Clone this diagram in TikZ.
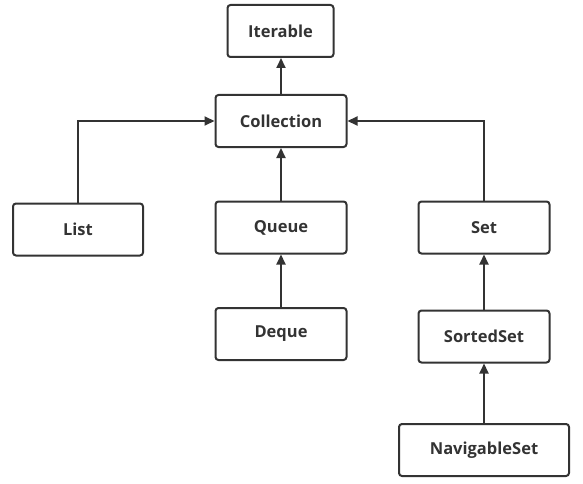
\documentclass[tikz,border=0pt]{standalone}
\usepackage{fontspec}
\setmainfont{Open Sans}
\usetikzlibrary{arrows.meta}
\definecolor{ink}{HTML}{333333}
\begin{document}
\begin{tikzpicture}[x=1pt,y=-1pt,
  box/.style={draw=ink,line width=2pt,rounded corners=3pt,fill=white,
    text=ink,font=\fontsize{16.5}{18}\selectfont\bfseries,inner sep=0pt,
    minimum height=52pt},
  arr/.style={draw=ink,line width=2pt,-{Triangle[length=10pt,width=9pt]}}]
\useasboundingbox (0,0) rectangle (583,484);
\node[box,minimum width=106pt] (iter) at (280.5,31) {Iterable};
\node[box,minimum width=131pt] (coll) at (281,121) {Collection};
\node[box,minimum width=130pt] (list) at (78,229.5) {List};
\node[box,minimum width=131pt] (queue) at (281,227.5) {Queue};
\node[box,minimum width=131pt] (deque) at (281,334) {Deque};
\node[box,minimum width=131pt] (set) at (484,227.5) {Set};
\node[box,minimum width=131pt] (sorted) at (484,336.5) {SortedSet};
\node[box,minimum width=170pt] (nav) at (484,450) {NavigableSet};
\draw[arr] (coll.north) -- (coll.north |- iter.south);
\draw[arr] (list.north) |- (coll.west);
\draw[arr] (set.north) |- (coll.east);
\draw[arr] (queue) -- (coll);
\draw[arr] (deque) -- (queue);
\draw[arr] (sorted) -- (set);
\draw[arr] (nav) -- (sorted);
\end{tikzpicture}
\end{document}
